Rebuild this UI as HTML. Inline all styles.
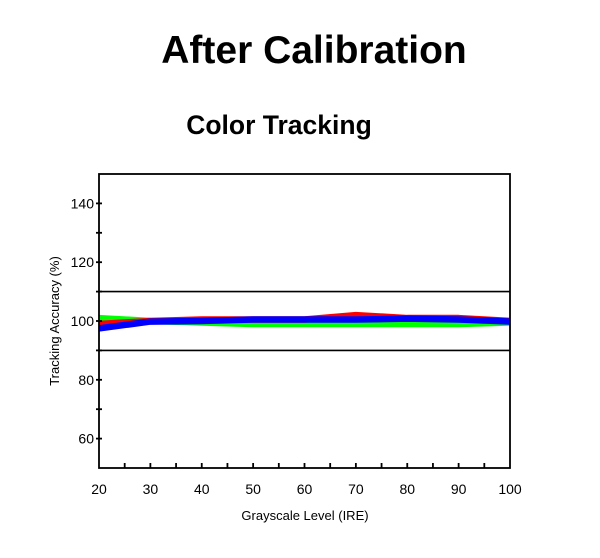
<!DOCTYPE html>
<html><head><meta charset="utf-8"><style>
body{margin:0;background:#fff;width:600px;height:553px;overflow:hidden;font-family:"Liberation Sans",Arial,sans-serif}
</style></head><body>
<svg width="600" height="553" viewBox="0 0 600 553">
<text x="314" y="63" text-anchor="middle" font-size="39" font-weight="bold">After Calibration</text>
<text x="279" y="134" text-anchor="middle" font-size="26.5" font-weight="bold">Color Tracking</text>
<g id="plot"></g>
<text x="305" y="520" text-anchor="middle" font-size="13">Grayscale Level (IRE)</text>
<text transform="translate(59,321) rotate(-90)" text-anchor="middle" font-size="13">Tracking Accuracy (%)</text>
</svg>
<script>
const categories=[20,30,40,50,60,70,80,90,100];
const redValues=[99,100,100.5,100.5,100.5,102,101,101,100];
const greenValues=[101,100,99.5,99,99,99,99,99,99.5];
const blueValues=[97.5,99.8,100,100.5,100.5,100.5,100.8,100.5,99.8];
const yTickLabels=[60,80,100,120,140];
const xTickLabels=[20,30,40,50,60,70,80,90,100];
const refLines=[90,110];
const NS="http://www.w3.org/2000/svg";
const L=99,R=510,T=174,B=468;
const xs=v=>L+(v-20)/80*(R-L);
const ys=v=>B-(v-50)/100*(B-T);
const g=document.getElementById('plot');
function mk(t,a){const e=document.createElementNS(NS,t);for(const k in a)e.setAttribute(k,a[k]);g.appendChild(e);return e;}
[[greenValues,'#00ff00','series-green'],[redValues,'#ff0000','series-red'],[blueValues,'#0000ff','series-blue']].forEach(s=>{
 const p=mk('polyline',{points:categories.map((c,i)=>xs(c)+','+ys(s[0][i])).join(' '),fill:'none',stroke:s[1],'stroke-width':6.5,'stroke-linejoin':'round'});
 
 
});
refLines.forEach(v=>{
 const l=mk('line',{x1:L,x2:R,y1:ys(v),y2:ys(v),stroke:'#000','stroke-width':1.6});
 
 
});
const fr=mk('rect',{x:L,y:T,width:R-L,height:B-T,fill:'none',stroke:'#000','stroke-width':1.8});


for(let v=60;v<=140;v+=10){mk('line',{x1:L-3,x2:L+3,y1:ys(v),y2:ys(v),stroke:'#000','stroke-width':1.8});}
for(let v=25;v<100;v+=5){mk('line',{x1:xs(v),x2:xs(v),y1:B,y2:B-5,stroke:'#000','stroke-width':1.8});}
yTickLabels.forEach(v=>{
 const t=mk('text',{x:L-5,y:ys(v)+5,'text-anchor':'end','font-size':14});
 t.textContent=v;
 
 
});
xTickLabels.forEach(v=>{
 const t=mk('text',{x:xs(v),y:494,'text-anchor':'middle','font-size':14});
 t.textContent=v;
 
 
});
</script>
</body></html>
